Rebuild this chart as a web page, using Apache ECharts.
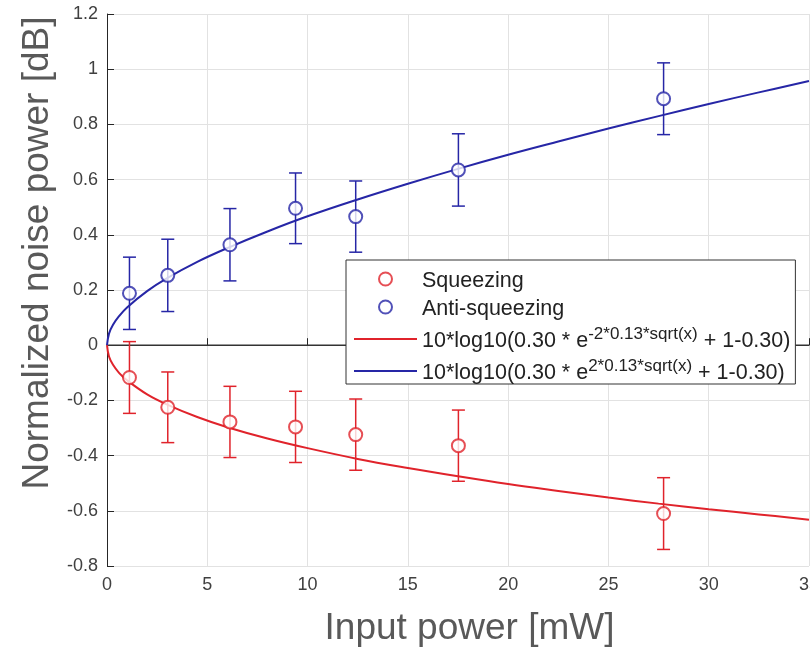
<!DOCTYPE html>
<html>
<head>
<meta charset="UTF-8">
<script src="https://cdn.jsdelivr.net/npm/echarts@6/dist/echarts.min.js"></script>
<style>
    html, body { margin: 0; padding: 0; background: #fff; }
    #chart { width: 810px; height: 652px; }
</style>
</head>
<body>
<div id="chart"></div>
<script>
    // measured input powers [mW]
    let power = [1.12, 3.03, 6.13, 9.40, 12.40, 17.52, 27.75];
    // squeezing points and error half-widths [dB]
    let squeezing = [-0.117, -0.225, -0.278, -0.296, -0.324, -0.364, -0.610];
    let squeezingErr = [0.13, 0.128, 0.129, 0.129, 0.129, 0.129, 0.13];
    // anti-squeezing points and error half-widths [dB]
    let antiSqueezing = [0.188, 0.253, 0.364, 0.496, 0.466, 0.635, 0.893];
    let antiErr = [0.131, 0.131, 0.131, 0.128, 0.129, 0.131, 0.13];

    // fit curves
    let fitX = [0, 0.1, 0.3, 0.6, 1, 2, 3, 4.5, 6, 8, 10, 12.5, 15, 17.5, 20, 22.5, 25, 27.5, 30, 32.5, 35];
    let fitSqueezing = [0, -0.041, -0.071, -0.100, -0.127, -0.178, -0.215, -0.260, -0.297, -0.338, -0.373, -0.412, -0.445, -0.475, -0.503, -0.528, -0.552, -0.574, -0.594, -0.613, -0.632];
    let fitAnti = [0, 0.042, 0.074, 0.105, 0.137, 0.196, 0.243, 0.302, 0.352, 0.412, 0.467, 0.528, 0.585, 0.639, 0.690, 0.738, 0.785, 0.830, 0.874, 0.916, 0.957];

    // axis ticks
    let xTicks = [0, 5, 10, 15, 20, 25, 30, 35];
    let yTicks = [-0.8, -0.6, -0.4, -0.2, 0, 0.2, 0.4, 0.6, 0.8, 1, 1.2];

    let nameRed = '10*log10(0.30 * e^(-2*0.13*sqrt(x)) + 1-0.30)';
    let nameBlue = '10*log10(0.30 * e^(2*0.13*sqrt(x)) + 1-0.30)';

    let red = '#e0232b';
    let blue = '#2626a6';
    let font = 'Liberation Sans';

    function errorSeries(name, ys, errs, color) {
        return {
            type: 'custom',
            name: name,
            silent: true,
            z: 3,
            data: power.map(function (x, i) { return [x, ys[i] - errs[i], ys[i] + errs[i]]; }),
            encode: { x: 0, y: [1, 2] },
            renderItem: function (params, api) {
                let lo = api.coord([api.value(0), api.value(1)]);
                let hi = api.coord([api.value(0), api.value(2)]);
                let w = 6.5;
                let st = { stroke: color, lineWidth: 1.5 };
                return {
                    type: 'group',
                    children: [
                        { type: 'line', shape: { x1: lo[0], y1: lo[1], x2: hi[0], y2: hi[1] }, style: st },
                        { type: 'line', shape: { x1: lo[0] - w, y1: lo[1], x2: lo[0] + w, y2: lo[1] }, style: st },
                        { type: 'line', shape: { x1: hi[0] - w, y1: hi[1], x2: hi[0] + w, y2: hi[1] }, style: st }
                    ]
                };
            }
        };
    }

    let myChart = echarts.init(document.getElementById('chart'));
    let option = {
        animation: false,
        backgroundColor: '#fff',
        grid: { left: 107, top: 14, right: 1, bottom: 86, outerBoundsMode: 'none', containLabel: false },
        legend: {
            orient: 'vertical',
            left: 346,
            top: 260,
            padding: [10, 5, 0, 7],
            itemWidth: 63,
            itemHeight: 13,
            itemGap: 6,
            backgroundColor: '#fff',
            borderColor: '#333',
            borderWidth: 1,
            data: [
                'Squeezing',
                'Anti-squeezing',
                { name: nameRed, itemStyle: { opacity: 0 } },
                { name: nameBlue, itemStyle: { opacity: 0 } }
            ],
            formatter: function (name) {
                if (name === nameRed) return '{n|10*log10(0.30 * e}{sup|-2*0.13*sqrt(x)}{n| + 1-0.30)}';
                if (name === nameBlue) return '{n|10*log10(0.30 * e}{sup|2*0.13*sqrt(x)}{n| + 1-0.30)}';
                return '{n|' + name + '}';
            },
            textStyle: {
                fontFamily: font,
                fontSize: 22,
                color: '#222',
                rich: {
                    n: { fontFamily: font, fontSize: 21.5, color: '#222', lineHeight: 26, verticalAlign: 'bottom' },
                    sup: { fontFamily: font, fontSize: 17, color: '#222', lineHeight: 18, verticalAlign: 'top' }
                }
            }
        },
        xAxis: {
            type: 'value',
            min: xTicks[0],
            max: xTicks[xTicks.length - 1],
            interval: 5,
            name: 'Input power [mW]',
            nameLocation: 'middle',
            nameGap: 44,
            nameTextStyle: { fontFamily: font, fontSize: 37, color: '#595959', padding: [0, 0, 0, 23] },
            axisLine: { lineStyle: { color: '#262626', width: 1 } },
            axisTick: { inside: true, length: 7, lineStyle: { color: '#262626' } },
            axisLabel: { fontFamily: font, fontSize: 18, color: '#404040', margin: 10, showMaxLabel: true },
            splitLine: { show: true, lineStyle: { color: '#e2e2e2', width: 1 } }
        },
        yAxis: {
            type: 'value',
            min: yTicks[0],
            max: yTicks[yTicks.length - 1],
            interval: 0.2,
            name: 'Normalized noise power [dB]',
            nameLocation: 'middle',
            nameRotate: 90,
            nameGap: 48,
            nameTextStyle: { fontFamily: font, fontSize: 37, color: '#595959', padding: [0, 0, 0, 74] },
            axisLine: { show: true, lineStyle: { color: '#262626', width: 1 } },
            axisTick: { show: true, inside: true, length: 7, lineStyle: { color: '#262626' } },
            axisLabel: {
                fontFamily: font, fontSize: 18, color: '#404040', margin: 9,
                formatter: function (v) { return String(Math.round(v * 10) / 10); }
            },
            splitLine: { show: true, lineStyle: { color: '#e2e2e2', width: 1 } }
        },
        series: [
            {
                name: 'zero',
                type: 'line',
                silent: true,
                symbol: 'none',
                z: 1,
                lineStyle: { color: '#333', width: 1.5 },
                data: [[xTicks[0], 0], [xTicks[xTicks.length - 1], 0]]
            },
            errorSeries('Squeezing err', squeezing, squeezingErr, red),
            errorSeries('Anti-squeezing err', antiSqueezing, antiErr, blue),
            {
                name: nameRed,
                type: 'line',
                symbol: 'none',
                smooth: 0.4,
                z: 4,
                lineStyle: { color: red, width: 2 },
                itemStyle: { color: red },
                data: fitX.map(function (x, i) { return [x, fitSqueezing[i]]; })
            },
            {
                name: nameBlue,
                type: 'line',
                symbol: 'none',
                smooth: 0.4,
                z: 4,
                lineStyle: { color: blue, width: 2 },
                itemStyle: { color: blue },
                data: fitX.map(function (x, i) { return [x, fitAnti[i]]; })
            },
            {
                name: 'Squeezing',
                type: 'scatter',
                symbol: 'emptyCircle',
                symbolSize: 13,
                z: 5,
                itemStyle: { color: red, borderColor: red, borderWidth: 1.5 },
                data: power.map(function (x, i) { return [x, squeezing[i]]; })
            },
            {
                name: 'Anti-squeezing',
                type: 'scatter',
                symbol: 'emptyCircle',
                symbolSize: 13,
                z: 5,
                itemStyle: { color: blue, borderColor: blue, borderWidth: 1.5 },
                data: power.map(function (x, i) { return [x, antiSqueezing[i]]; })
            }
        ]
    };
    myChart.setOption(option);
</script>
</body>
</html>
